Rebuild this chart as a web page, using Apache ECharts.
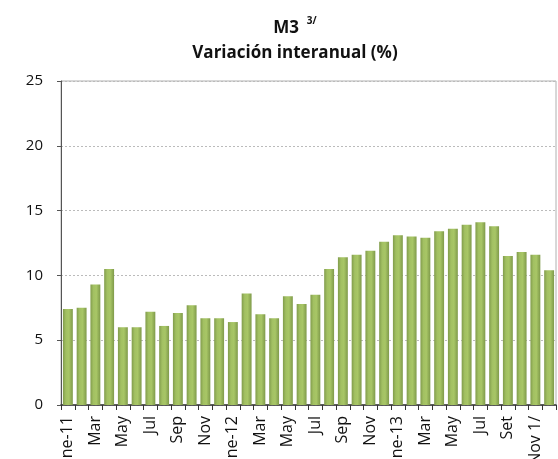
<!DOCTYPE html>
<html>
<head>
<meta charset="utf-8">
<script src="https://cdn.jsdelivr.net/npm/echarts@6/dist/echarts.min.js"></script>
<style>html,body{margin:0;padding:0;background:#fff}#c{width:558px;height:459px}</style>
</head>
<body>
<div id="c"></div>
<script>
const categories = [
  'Ene-11','Feb','Mar','Abr','May','Jun','Jul','Ago','Sep','Oct','Nov','Dic',
  'Ene-12','Feb','Mar','Abr','May','Jun','Jul','Ago','Sep','Oct','Nov','Dic',
  'Ene-13','Feb','Mar','Abr','May','Jun','Jul','Ago','Set','Oct','Nov 1/','Dic'
];
const m3Values = [
  7.4, 7.5, 9.3, 10.5, 6.0, 6.0, 7.2, 6.1, 7.1, 7.7, 6.7, 6.7,
  6.4, 8.6, 7.0, 6.7, 8.4, 7.8, 8.5, 10.5, 11.4, 11.6, 11.9, 12.6,
  13.1, 13.0, 12.9, 13.4, 13.6, 13.9, 14.1, 13.8, 11.5, 11.8, 11.6, 10.4
];
const yTicks = { min: 0, max: 25, interval: 5 };

const chart = echarts.init(document.getElementById('c'));
const barColor = new echarts.graphic.LinearGradient(0, 0, 1, 0, [
  { offset: 0, color: '#819c4c' },
  { offset: 0.3, color: '#a2c062' },
  { offset: 0.6, color: '#a8c666' },
  { offset: 1, color: '#7f9a4a' }
]);
chart.setOption({
  animation: false,
  title: {
    text: '{a|M3}{s|   3/}\n{a|Variación interanual (%)}',
    left: 290, top: 11, textAlign: 'center',
    textStyle: {
      rich: {
        a: { fontFamily: 'Open Sans', fontWeight: 'bold', fontSize: 17, color: '#111', lineHeight: 25 },
        s: { fontFamily: 'Open Sans', fontWeight: 'bold', fontSize: 10, color: '#111', verticalAlign: 'top', padding: [0,0,9,0] }
      }
    }
  },
  grid: { left: 61, right: 2, top: 81, bottom: 54, outerBoundsMode: 'none', containLabel: false, show: true, borderColor: '#b0b0b0', borderWidth: 1 },
  xAxis: {
    type: 'category', data: categories, boundaryGap: true,
    axisLine: { lineStyle: { color: '#333', width: 1.5 } },
    axisTick: { show: true, interval: 0, length: 5, lineStyle: { color: '#333' } },
    axisLabel: { interval: 1, rotate: 90, margin: 11, fontFamily: 'Open Sans', fontSize: 16, color: '#111' }
  },
  yAxis: {
    type: 'value', min: yTicks.min, max: yTicks.max, interval: yTicks.interval,
    axisLine: { show: true, lineStyle: { color: '#555', width: 1 } },
    axisTick: { show: true, length: 4, lineStyle: { color: '#555' } },
    axisLabel: { margin: 18, fontFamily: 'Open Sans', fontSize: 15, color: '#111' },
    splitLine: { lineStyle: { color: '#bbb', type: [2, 2] } }
  },
  series: [{
    type: 'bar', data: m3Values, barCategoryGap: '28%',
    itemStyle: { color: barColor }
  }]
});
</script>
</body>
</html>
